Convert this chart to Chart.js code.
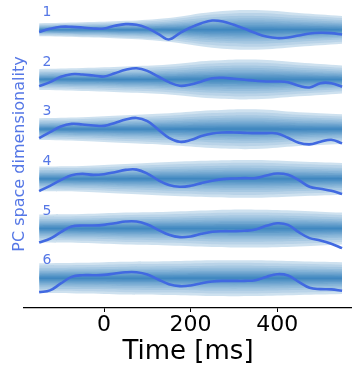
<!DOCTYPE html>
<html>
<head>
<meta charset="utf-8">
<script src="https://cdn.jsdelivr.net/npm/chart.js@4.4.0/dist/chart.umd.min.js"></script>
<style>
    html, body { margin: 0; padding: 0; background: #fff; }
    #chart { display: block; }
</style>
</head>
<body>
<canvas id="chart" width="352" height="367"></canvas>
<script>
// Time grid (ms)
var lineTimes = [-150, -125, -100, -75, -50, -25, 0, 25, 50, 75, 100, 125, 150, 175, 200,
    225, 250, 275, 300, 325, 350, 375, 400, 425, 450, 475, 500, 525, 550];
var bandTimes = [-150, -50, 50, 150, 250, 350, 450, 550];
var xTicks = [0, 200, 400];

// Rows
var rowLabels = ['1', '2', '3', '4', '5', '6'];
var rowBase = [250, 200, 150, 100, 50, 0];

// Projection per dimension (offset from row baseline)
var dim1 = [-2.3, 1.0, 3.0, 3.0, 2.3, 1.3, 1.3, 4.0, 5.7, 5.0, 1.7, -4.0, -9.7, -3.3, 2.3,
    6.7, 9.3, 8.3, 5.0, 1.0, -3.3, -6.7, -8.3, -7.7, -5.7, -3.7, -3.0, -3.3, -4.7];
var dim2 = [-6.7, -2.7, 2.7, 5.3, 5.0, 4.0, 3.0, 6.3, 9.7, 11.3, 8.7, 3.0, -2.7, -6.3, -5.0,
    -2.0, 1.3, 1.7, 0.7, -0.3, -1.3, -2.0, -2.0, -2.7, -6.3, -8.0, -3.7, -3.7, -7.3];
var dim3 = [-9.0, -3.0, 2.7, 5.3, 4.7, 3.7, 3.3, 6.3, 9.7, 11.3, 8.0, -0.3, -8.7, -12.7, -11.0,
    -7.0, -4.3, -3.3, -3.3, -3.7, -4.0, -4.0, -4.3, -8.7, -13.7, -15.3, -12.7, -10.7, -14.3];
var dim4 = [-12.3, -7.0, -1.3, 3.7, 5.0, 4.0, 4.7, 6.7, 9.0, 9.3, 5.3, -1.3, -6.3, -8.0, -7.0,
    -4.3, -2.0, -0.3, 0.3, 0.7, 0.7, 3.3, 5.3, 4.0, -1.3, -8.0, -10.0, -12.0, -15.3];
var dim5 = [-14.0, -10.3, -3.7, 2.0, 3.0, 3.0, 3.7, 5.3, 7.0, 7.0, 4.0, -1.3, -6.3, -8.7, -8.0,
    -5.3, -3.3, -2.7, -2.7, -2.3, -1.0, 2.7, 5.3, 3.7, -3.7, -9.7, -12.0, -15.3, -19.7];
var dim6 = [-14.0, -12.3, -5.3, 1.3, 3.0, 3.0, 3.3, 4.7, 6.0, 6.0, 3.7, -1.3, -6.0, -8.0, -7.3,
    -5.0, -3.3, -2.7, -2.7, -2.7, -2.0, 1.3, 4.0, 2.7, -3.7, -9.7, -11.0, -11.3, -12.7];

// Null distribution half width per dimension
var band1 = [6.5, 7.5, 9, 12, 18, 20, 17, 14];
var band2 = [10.5, 11.5, 13, 15, 19, 20, 17, 14];
var band3 = [11, 12, 14, 16, 19, 20, 17, 15];
var band4 = [12.5, 13, 15, 17, 18.5, 19, 17.5, 16];
var band5 = [14, 14.5, 16, 17, 18.5, 19, 18, 16];
var band6 = [15, 15.5, 16.5, 17, 18, 18, 17, 16];

var dims = [dim1, dim2, dim3, dim4, dim5, dim6];
var bands = [band1, band2, band3, band4, band5, band6];

// Gradient layers (fraction of half width, opacity)
var bandLevels = [1.0, 0.85, 0.7, 0.58, 0.48, 0.4, 0.33, 0.27, 0.22, 0.17, 0.13, 0.09, 0.06, 0.03];
var bandAlpha = [0.22, 0.12, 0.12, 0.12, 0.12, 0.12, 0.12, 0.12, 0.12, 0.12, 0.12, 0.12, 0.12, 0.12];
var lineColor = '#4169e1';
var textBlue = '#5577e6';

var datasets = [];

// Lines on top
dims.forEach(function (dim, r) {
    datasets.push({
        data: lineTimes.map(function (t, i) { return { x: t, y: rowBase[r] + dim[i] }; }),
        borderColor: lineColor,
        borderWidth: 2.6,
        pointRadius: 0,
        tension: 0.4,
        fill: false,
        order: 0
    });
});

// Bands, one pair of edges per layer
bands.forEach(function (band, r) {
    bandLevels.forEach(function (lv, k) {
        datasets.push({
            data: bandTimes.map(function (t, i) { return { x: t, y: rowBase[r] + band[i] * lv }; }),
            borderWidth: 0,
            pointRadius: 0,
            tension: 0.4,
            fill: '+1',
            backgroundColor: 'rgba(31,119,180,' + bandAlpha[k] + ')',
            order: 1
        });
        datasets.push({
            data: bandTimes.map(function (t, i) { return { x: t, y: rowBase[r] - band[i] * lv }; }),
            borderWidth: 0,
            pointRadius: 0,
            tension: 0.4,
            fill: false,
            order: 1
        });
    });
});

// Row numbers
var rowLabelPlugin = {
    id: 'rowLabels',
    afterDatasetsDraw: function (chart) {
        var ctx = chart.ctx;
        var xs = chart.scales.x;
        var ys = chart.scales.y;
        ctx.save();
        ctx.font = '14px "DejaVu Sans"';
        ctx.fillStyle = textBlue;
        ctx.textAlign = 'left';
        ctx.textBaseline = 'middle';
        rowLabels.forEach(function (label, i) {
            ctx.fillText(label, xs.getPixelForValue(-142), ys.getPixelForValue(rowBase[i] + 17.5));
        });
        ctx.restore();
    }
};

new Chart(document.getElementById('chart').getContext('2d'), {
    type: 'line',
    data: { datasets: datasets },
    plugins: [rowLabelPlugin],
    options: {
        responsive: false,
        animation: false,
        devicePixelRatio: 1,
        layout: { padding: 0 },
        plugins: {
            legend: { display: false },
            tooltip: { enabled: false }
        },
        scales: {
            x: {
                type: 'linear',
                min: -185,
                max: 573,
                afterBuildTicks: function (axis) {
                    axis.ticks = xTicks.map(function (v) { return { value: v }; });
                },
                ticks: {
                    color: '#000',
                    padding: 2,
                    maxRotation: 0,
                    autoSkip: false,
                    font: { family: 'DejaVu Sans', size: 22, lineHeight: 1 }
                },
                grid: {
                    display: true,
                    drawOnChartArea: false,
                    drawTicks: true,
                    tickLength: 4,
                    color: '#000',
                    lineWidth: 1
                },
                border: { display: true, color: '#000', width: 1.3 },
                title: {
                    display: true,
                    text: 'Time [ms]',
                    color: '#000',
                    font: { family: 'DejaVu Sans', size: 26, lineHeight: 1 },
                    padding: { top: 1, bottom: 2 }
                }
            },
            y: {
                type: 'linear',
                min: -30,
                max: 280,
                ticks: { display: false },
                grid: { display: false, drawTicks: false },
                border: { display: false },
                title: {
                    display: true,
                    text: 'PC space dimensionality',
                    color: textBlue,
                    font: { family: 'DejaVu Sans', size: 16, lineHeight: 0.5 },
                    padding: { top: 16, bottom: 0 }
                }
            }
        }
    }
});
</script>
</body>
</html>
